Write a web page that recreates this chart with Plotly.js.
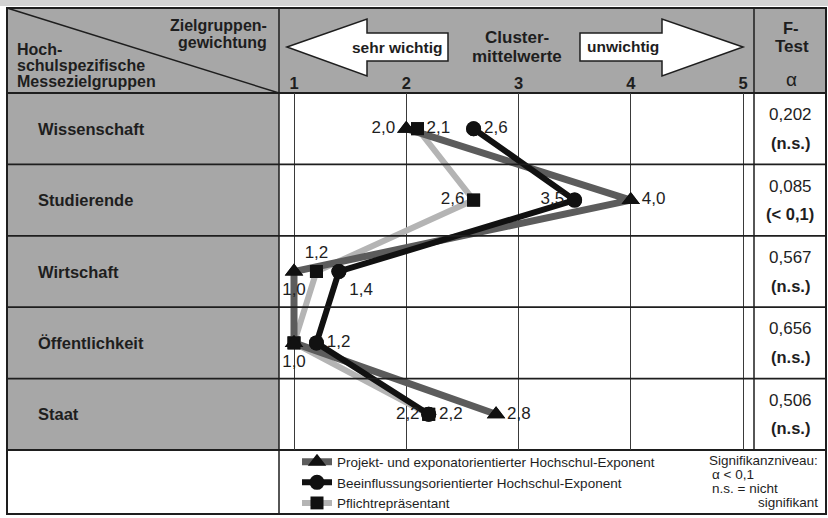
<!DOCTYPE html>
<html><head><meta charset="utf-8">
<script src="https://cdn.plot.ly/plotly-3.0.1.min.js"></script>
<style>html,body{margin:0;padding:0;background:#fff}#c{width:828px;height:518px}</style>
</head><body><div id="c"></div>
<script>
// ---- data ----
const categories = ['Wissenschaft','Studierende','Wirtschaft','Öffentlichkeit','Staat'];
const projekt    = [2.0, 4.0, 1.0, 1.0, 2.8];   // Projekt- und exponatorientierter Hochschul-Exponent
const beeinfluss = [2.6, 3.5, 1.4, 1.2, 2.2];   // Beeinflussungsorientierter Hochschul-Exponent
const pflicht    = [2.1, 2.6, 1.2, 1.0, 2.2];   // Pflichtrepräsentant
const alphaVals  = ['0,202','0,085','0,567','0,656','0,506'];
const alphaSig   = ['(n.s.)','(< 0,1)','(n.s.)','(n.s.)','(n.s.)'];
const tickVals   = [1,2,3,4,5];
const seriesNames = ['Projekt- und exponatorientierter Hochschul-Exponent',
                     'Beeinflussungsorientierter Hochschul-Exponent',
                     'Pflichtrepräsentant'];

// ---- helpers ----
const W=828, H=518;
const X = p => p/W;
const Y = p => 1 - p/H;
const fmt = v => v.toFixed(1).replace('.', ',');
const FONT = 'Liberation Sans, Arial, sans-serif';
const GRAY = '#a7a7a7';
const INK = '#1e1e1e';

const labelFont = {family: FONT, size: 17, color: INK};

// label placement (styling only)
const posProjekt    = ['middle left','middle right','bottom center','bottom center','middle right'];
const posBeeinfluss = ['middle right','middle left','bottom right','middle right','middle right'];
const posPflicht    = ['middle right','middle left','top center','middle left','middle left'];
const showPflicht   = [true,true,true,false,true];

const lineTrace = (vals, name, color, width, symbol, size, rank) => ({
  type:'scatter', mode:'lines+markers', x: vals, y: categories, name,
  line:{color, width}, marker:{symbol, size, color:'#111'},
  legendrank: rank, hoverinfo:'skip'
});
const markTrace = (vals, symbol, size, text, pos) => ({
  type:'scatter', mode:'markers+text', x: vals, y: categories, showlegend:false,
  marker:{symbol, size, color:'#111'}, text, textposition: pos, textfont: labelFont,
  cliponaxis:false, hoverinfo:'skip'
});

const traces = [
  lineTrace(pflicht, seriesNames[2], '#b4b4b4', 6, 'square', 13, 3),
  lineTrace(projekt, seriesNames[0], '#5c5c5c', 7, 'triangle-up', 16, 1),
  lineTrace(beeinfluss, seriesNames[1], '#111111', 6, 'circle', 15, 2),
  markTrace(pflicht, 'square', 13, pflicht.map((v,i)=>showPflicht[i]?fmt(v):''), posPflicht),
  markTrace(projekt, 'triangle-up', 16, projekt.map(fmt), posProjekt),
  markTrace(beeinfluss, 'circle', 15, beeinfluss.map(fmt), posBeeinfluss),
];

// ---- table shapes ----
const shapes = [];
const rect = (x0,y0,x1,y1,fill,lw,lc) => shapes.push({type:'rect', xref:'paper', yref:'paper',
  x0:X(x0), x1:X(x1), y0:Y(y0), y1:Y(y1), fillcolor:fill||'rgba(0,0,0,0)',
  line:{width:lw||0, color:lc||INK}, layer:'below'});
const line = (x0,y0,x1,y1,lw) => shapes.push({type:'line', xref:'paper', yref:'paper',
  x0:X(x0), x1:X(x1), y0:Y(y0), y1:Y(y1), line:{width:lw||1.5, color:INK}, layer:'below'});
const path = pts => 'M ' + pts.map(p => X(p[0]).toFixed(5)+','+Y(p[1]).toFixed(5)).join(' L ') + ' Z';

rect(0,0,828,6,'#d2d2d2');
rect(7,8,826,93,GRAY);
rect(7,93,279,450,GRAY);
// row separators on the category scale
for (let i=0;i<categories.length-1;i++) shapes.push({type:'line', xref:'paper', yref:'y',
  x0:X(7), x1:X(826), y0:i+0.5, y1:i+0.5, line:{width:1.8, color:INK}, layer:'above'});
line(7,93,826,93,2);
line(7,450,826,450,2);
line(279,8,279,514,1.5);
line(754,8,754,450,1.5);
line(7,8,279,93,1.5);
rect(7,8,826,514,null,2,INK);
// arrows
shapes.push({type:'path', xref:'paper', yref:'paper', layer:'above',
  path: path([[287,47],[367,19],[367,33],[448,33],[448,61],[367,61],[367,76]]),
  fillcolor:'#ffffff', line:{width:1.5, color:INK}});
shapes.push({type:'path', xref:'paper', yref:'paper', layer:'above',
  path: path([[743,47],[662,19],[662,33],[580,33],[580,61],[662,61],[662,76]]),
  fillcolor:'#ffffff', line:{width:1.5, color:INK}});

// ---- annotations ----
const ann = [];
const B = (size) => ({family:FONT, size, color:INK, weight:'bold'});
const txt = (x,y,t,opts) => ann.push(Object.assign({xref:'paper', yref:'paper', x:X(x), y:Y(y),
  text:t, showarrow:false, font:B(16), xanchor:'center', yanchor:'middle'}, opts||{}));

txt(269,25,'Zielgruppen-',{xanchor:'right'});
txt(269,43,'gewichtung',{xanchor:'right'});
txt(15,49.5,'Hoch-',{xanchor:'left'});
txt(15,65.5,'schulspezifische',{xanchor:'left'});
txt(15,81,'Messezielgruppen',{xanchor:'left'});
txt(397,47,'sehr wichtig',{font:B(15.5)});
txt(623,46,'unwichtig',{font:B(15.5)});
txt(517,38,'Cluster-',{font:B(17)});
txt(517,56,'mittelwerte',{font:B(17)});
txt(791,28,'F-',{font:B(16.5)});
txt(792,46,'Test',{font:B(17)});
txt(791,79,'α',{font:{family:FONT,size:19,color:INK}});

categories.forEach((c,i) => {
  ann.push({xref:'paper', yref:'y', x:X(36), y:c, text:c, showarrow:false, xanchor:'left', yanchor:'middle',
    font:B(16.5)});
  ann.push({xref:'paper', yref:'y', x:X(790), y:c, yshift:14, text:alphaVals[i], showarrow:false,
    xanchor:'center', yanchor:'middle', font:{family:FONT, size:17, color:INK}});
  ann.push({xref:'paper', yref:'y', x:X(790), y:c, yshift:-14, text:alphaSig[i], showarrow:false,
    xanchor:'center', yanchor:'middle', font:B(16.5)});
});

const small = {family:FONT, size:13.5, color:INK};
txt(820,460,'Signifikanzniveau:',{xanchor:'right', font:small});
txt(710,474,'α < 0,1',{xanchor:'left', font:small});
txt(710,488,'n.s. = nicht',{xanchor:'left', font:small});
txt(820,502,'signifikant',{xanchor:'right', font:small});

const layout = {
  width: W, height: H, margin:{l:0,r:0,t:0,b:0,autoexpand:false},
  paper_bgcolor:'#ffffff', plot_bgcolor:'rgba(0,0,0,0)',
  xaxis:{domain:[X(279), X(754)], range:[1-15/112.25, 5+11/112.25], side:'top',
    tickmode:'array', tickvals:tickVals, ticktext:tickVals.map(String), ticks:'',
    tickfont:B(16.5), automargin:false,
    showgrid:true, gridcolor:'#3a3a3a', gridwidth:1, zeroline:false, showline:false, fixedrange:true},
  yaxis:{domain:[Y(450), Y(93)], type:'category', categoryorder:'array', categoryarray:categories,
    range:[categories.length-0.5, -0.5], showgrid:false, zeroline:false, showticklabels:false, ticks:'',
    automargin:false, fixedrange:true},
  showlegend:true,
  legend:{x:X(297), y:Y(446.5), xanchor:'left', yanchor:'top', bgcolor:'rgba(0,0,0,0)',
    font:{family:FONT, size:13.5, color:INK}, tracegroupgap:0, itemclick:false},
  shapes, annotations: ann
};
Plotly.newPlot('c', traces, layout, {staticPlot:true, displayModeBar:false});
</script></body></html>
